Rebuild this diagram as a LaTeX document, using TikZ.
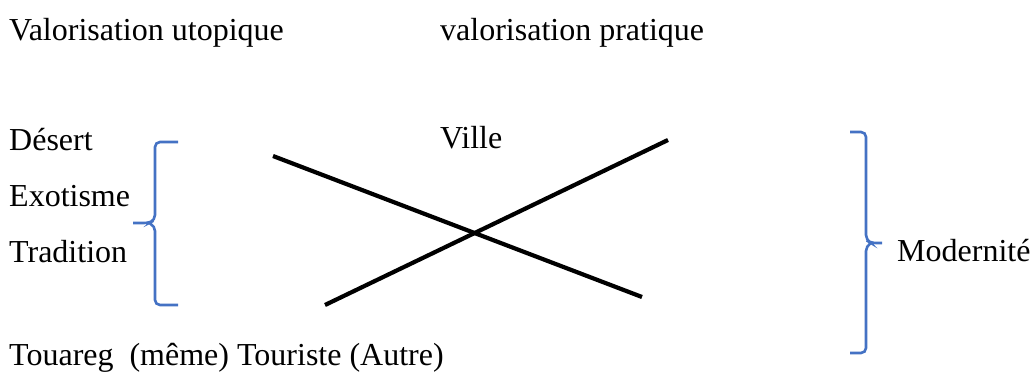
\documentclass[tikz,border=0pt]{standalone}
\usepackage{fontspec}
\setmainfont{Liberation Serif}
\definecolor{braceblue}{RGB}{68,114,196}
\begin{document}
\begin{tikzpicture}[x=1pt,y=-1pt,
  lbl/.style={anchor=base west,inner sep=0pt,font=\fontsize{32}{38}\selectfont},
  xline/.style={line width=4.2pt,black},
  bracepath/.style={braceblue,line width=2.6pt,rounded corners=5pt}]
\useasboundingbox (0,0) rectangle (1033,374);
\node[lbl] (vu) at (9,41) {Valorisation utopique};
\node[lbl] (vp) at (440,41) {valorisation pratique};
\node[lbl] (de) at (9,151) {Désert};
\node[lbl] (vi) at (440,149) {Ville};
\node[lbl] (ex) at (9,207) {Exotisme};
\node[lbl] (tr) at (9,262) {Tradition};
\node[lbl] (mo) at (897,261) {Modernité};
\node[lbl] (to) at (9,365) {Touareg\ \ (même) Touriste (Autre)};
% X lines
\coordinate (a1) at (273,156);
\coordinate (a2) at (642,297);
\coordinate (b1) at (325,305);
\coordinate (b2) at (668,140);
\draw[xline] (a1) -- (a2);
\draw[xline] (b1) -- (b2);
% left brace
\coordinate (lt) at (178,142);
\coordinate (lm) at (133,223);
\coordinate (lb) at (178,305);
\draw[bracepath] (lt) -- (155,142) -- (155,220) -- (149,223) -- (lm);
\draw[bracepath] (149,223) -- (155,226) -- (155,305) -- (lb);
% right brace
\coordinate (rt) at (850,132);
\coordinate (rm) at (882,243);
\coordinate (rb) at (850,353);
\draw[bracepath] (rt) -- (866,132) -- (866,240) -- (871,243) -- (rm);
\draw[bracepath] (871,243) -- (866,246) -- (866,353) -- (rb);
\end{tikzpicture}
\end{document}
